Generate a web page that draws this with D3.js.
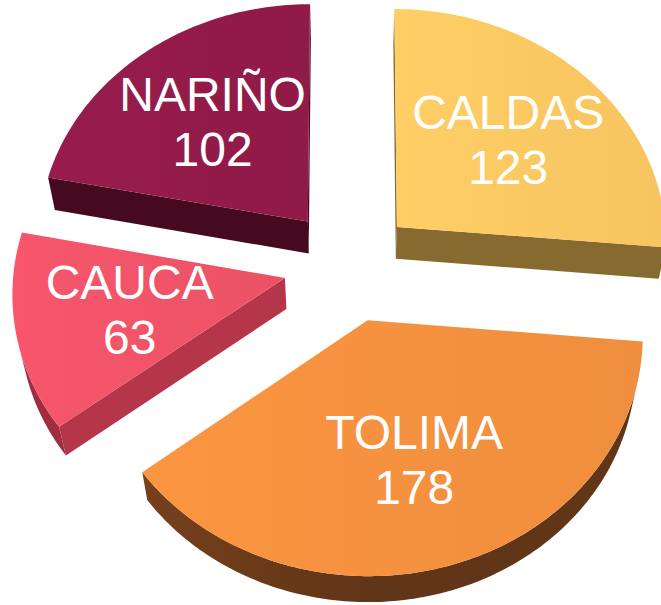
<!DOCTYPE html>
<html>
<head>
<meta charset="utf-8">
<script src="https://cdn.jsdelivr.net/npm/d3@7"></script>
<style>
  body { margin: 0; background: #fff; }
  svg { display: block; }
</style>
</head>
<body>
<div id="chart"></div>
<script>
// data
const regions = ["CALDAS", "TOLIMA", "CAUCA", "NARIÑO"];
const counts = [123, 178, 63, 102];

const width = 661, height = 605;

// 3d view settings (pie radius = 1 unit)
const cx = 349, cy = 265;
const scaleX = 271;
const tilt = Math.PI / 3;
const camDist = 8.73;
const thick = 0.236;
const explode = 0.242;
const labelPos = 0.58;

const topColor = d3.scaleOrdinal()
  .domain(regions)
  .range(["#fcc862", "#f4913f", "#f05468", "#931b4a"]);
const sideColor = d3.scaleOrdinal()
  .domain(regions)
  .range(["#866a30", "#613517", "#b43648", "#450a20"]);
const rimColor = d3.scaleOrdinal()
  .domain(regions)
  .range(["#866a30", "#613517", "#9f2d3e", "#450a20"]);
const rimLight = d3.scaleOrdinal()
  .domain(regions)
  .range([0, 0.55, 0, 0]);

function project(u, v, z) {
  const f = 1 - (v * Math.cos(tilt) + z * Math.sin(tilt)) / camDist;
  return [cx + scaleX * u / f, cy + scaleX * (v * Math.sin(tilt) - z * Math.cos(tilt)) / f];
}

// signed area, negative = facing the viewer
function area(pts) {
  let s = 0;
  for (let i = 0; i < pts.length; i++) {
    const a = pts[i], b = pts[(i + 1) % pts.length];
    s += a[0] * b[1] - b[0] * a[1];
  }
  return s / 2;
}

const svg = d3.select("#chart")
  .append("svg")
    .attr("width", width)
    .attr("height", height);

const defs = svg.append("defs");
const poly = d3.line().curve(d3.curveLinearClosed);

const pie = d3.pie().sort(null).value(d => d.value);
const slices = pie(regions.map((r, i) => ({region: r, value: counts[i]})));

slices.forEach(s => {
  const mid = (s.startAngle + s.endAngle) / 2;
  s.ou = explode * Math.sin(mid);
  s.ov = -explode * Math.cos(mid);
  s.mid = mid;
});

// far slices first
const order = slices.slice().sort((a, b) => a.ov - b.ov);

order.forEach((s, k) => {
  const name = s.data.region;
  const g = svg.append("g").attr("class", "slice");
  const n = Math.max(2, Math.ceil((s.endAngle - s.startAngle) / (Math.PI / 180)));
  const angs = d3.range(n + 1).map(i => s.startAngle + (s.endAngle - s.startAngle) * i / n);

  const rim = z => angs.map(a => project(s.ou + Math.sin(a), s.ov - Math.cos(a), z));
  const topRim = rim(0), botRim = rim(-thick);
  const apexTop = project(s.ou, s.ov, 0), apexBot = project(s.ou, s.ov, -thick);

  const xs = topRim.map(p => p[0]).concat([apexTop[0]]);
  const x0 = d3.min(xs), x1 = d3.max(xs);

  // rim gradient
  const wid = "wall" + k;
  const wg = defs.append("linearGradient").attr("id", wid)
    .attr("gradientUnits", "userSpaceOnUse")
    .attr("x1", x0).attr("x2", x1).attr("y1", 0).attr("y2", 0);
  const rc = d3.color(rimColor(name));
  wg.append("stop").attr("offset", 0).attr("stop-color", rc.brighter(rimLight(name)));
  wg.append("stop").attr("offset", 0.45).attr("stop-color", rc);
  wg.append("stop").attr("offset", 1).attr("stop-color", rc);

  const tid = "top" + k;
  const tg = defs.append("linearGradient").attr("id", tid)
    .attr("gradientUnits", "userSpaceOnUse")
    .attr("x1", x0).attr("x2", x1).attr("y1", 0).attr("y2", 0);
  const tc = d3.color(topColor(name));
  tg.append("stop").attr("offset", 0).attr("stop-color", tc.brighter(0.08));
  tg.append("stop").attr("offset", 1).attr("stop-color", tc.darker(0.06));

  // radial walls
  const walls = [
    [apexTop, topRim[0], botRim[0], apexBot],
    [topRim[n], apexTop, apexBot, botRim[n]]
  ];
  walls.forEach(w => {
    if (area(w) < 0) {
      g.append("path").attr("d", poly(w)).attr("fill", sideColor(name));
    }
  });

  // outer wall, visible runs only
  let run = [];
  const flush = () => {
    if (run.length > 1) {
      const pts = run.map(i => topRim[i]).concat(run.slice().reverse().map(i => botRim[i]));
      g.append("path").attr("d", poly(pts)).attr("fill", `url(#${wid})`);
    }
    run = [];
  };
  for (let i = 0; i < n; i++) {
    const q = [topRim[i], topRim[i + 1], botRim[i + 1], botRim[i]];
    if (area(q) < 0) {
      if (run.length === 0) run.push(i);
      run.push(i + 1);
    } else flush();
  }
  flush();

  // top face
  g.append("path")
    .attr("d", poly([apexTop].concat(topRim)))
    .attr("fill", `url(#${tid})`);
});

// labels
const labels = svg.append("g")
  .attr("font-family", "Liberation Sans, Arial, sans-serif")
  .attr("font-size", 48)
  .attr("fill", "#fff")
  .attr("text-anchor", "middle");

slices.forEach(s => {
  const p = project(s.ou + labelPos * Math.sin(s.mid), s.ov - labelPos * Math.cos(s.mid), 0);
  const t = labels.append("text")
    .attr("x", p[0]).attr("y", p[1] - 10);
  t.append("tspan").attr("x", p[0]).text(s.data.region);
  t.append("tspan").attr("x", p[0]).attr("dy", 55).text(s.data.value);
});
</script>
</body>
</html>
